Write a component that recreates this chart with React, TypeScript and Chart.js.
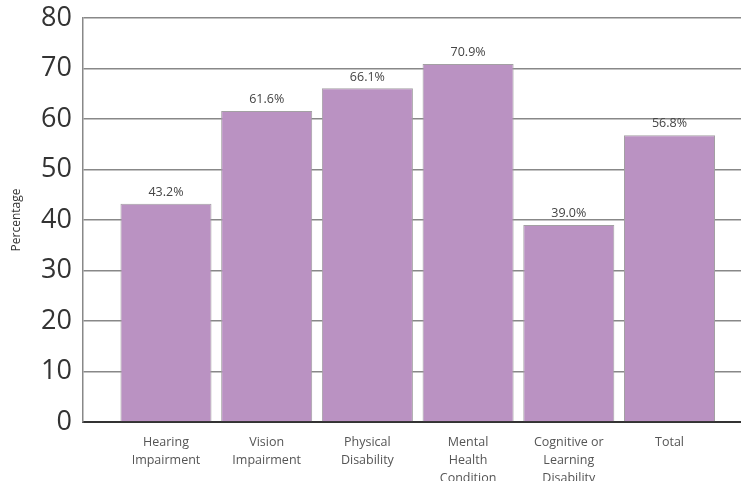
import React, { useEffect, useRef } from "react";
import { Chart, registerables } from "chart.js";

Chart.register(...registerables);

const categories: string[][] = [
  ["Hearing", "Impairment"],
  ["Vision", "Impairment"],
  ["Physical", "Disability"],
  ["Mental", "Health", "Condition"],
  ["Cognitive or", "Learning", "Disability"],
  ["Total"],
];
const values: number[] = [43.2, 61.6, 66.1, 70.9, 39.0, 56.8];
const yTicks: number[] = [0, 10, 20, 30, 40, 50, 60, 70, 80];
const yTitle = "Percentage";

const FONT = "'Open Sans', 'DejaVu Sans', sans-serif";

const valueLabels = {
  id: "valueLabels",
  afterDatasetsDraw(chart: any) {
    const ctx = chart.ctx;
    const meta = chart.getDatasetMeta(0);
    ctx.save();
    ctx.font = `12.5px ${FONT}`;
    ctx.fillStyle = "#444";
    ctx.textAlign = "center";
    ctx.textBaseline = "bottom";
    meta.data.forEach((bar: any, i: number) => {
      ctx.fillText(values[i].toFixed(1) + "%", bar.x, bar.y - 5);
    });
    ctx.restore();
  },
};

export default function App() {
  const ref = useRef<HTMLCanvasElement | null>(null);
  useEffect(() => {
    document.body.style.margin = "0";
    const chart = new Chart(ref.current!, {
      type: "bar",
      data: {
        datasets: [
          {
            data: values.map((v, i) => ({ x: i, y: v })),
            backgroundColor: "#BA92C2",
            borderColor: "#A3A0A3",
            borderWidth: 1,
            categoryPercentage: 1,
            barPercentage: 0.904,
          },
        ],
      },
      options: {
        animation: false,
        responsive: false,
        maintainAspectRatio: false,
        layout: { padding: { top: 18, right: 0, left: 0, bottom: 0 } },
        plugins: { legend: { display: false }, tooltip: { enabled: false } },
        scales: {
          x: {
            type: "linear",
            min: -0.824,
            max: 5.71,
            offset: false,
            grid: { display: false, drawTicks: false },
            border: { display: true, color: "#333", width: 2 },
            afterBuildTicks: (scale: any) => {
              scale.ticks = categories.map((_, i) => ({ value: i }));
            },
            afterFit: (scale: any) => {
              scale.height = 59;
              scale.paddingLeft = 0;
              scale.paddingRight = 0;
            },
            ticks: {
              autoSkip: false,
              maxRotation: 0,
              padding: 11,
              color: "#555",
              font: { family: FONT, size: 12.5, lineHeight: 1.45 },
              callback: (v: any) => {
                const i = Math.round(Number(v));
                return categories[i] ?? "";
              },
            },
          },
          y: {
            min: 0,
            max: 80,
            afterBuildTicks: (scale: any) => {
              scale.ticks = yTicks.map((v) => ({ value: v }));
            },
            afterFit: (scale: any) => {
              scale.width = 83;
              scale.paddingTop = 0;
              scale.paddingBottom = 0;
            },
            grid: { color: "#888", lineWidth: 1.5, drawTicks: false },
            border: { display: true, color: "#888", width: 1.5 },
            ticks: {
              padding: 11,
              color: "#333",
              font: { family: FONT, size: 27 },
            },
            title: {
              display: true,
              text: yTitle,
              color: "#333",
              font: { family: FONT, size: 12 },
              padding: { top: 9, bottom: 0 },
            },
          },
        },
      },
      plugins: [valueLabels],
    });
    return () => chart.destroy();
  }, []);
  return (
    <div style={{ width: 741, height: 481, background: "#fff" }}>
      <canvas ref={ref} width={741} height={481} style={{ display: "block" }} />
    </div>
  );
}
